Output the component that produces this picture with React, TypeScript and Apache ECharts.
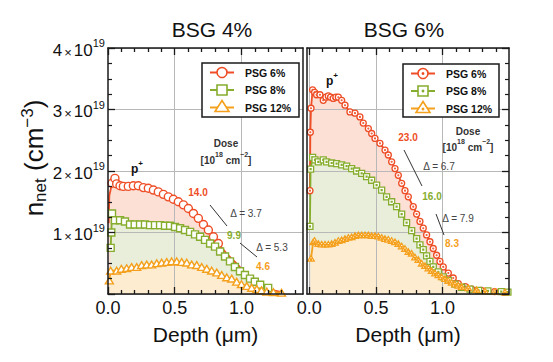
import React, { useEffect, useRef } from 'react';
import * as echarts from 'echarts';

const FONT = '"Liberation Sans", Arial, Helvetica, sans-serif';
const INK = '#1a1a1a';
const RED = '#ee4d26';
const GREEN = '#87ad2e';
const ORANGE = '#f5a01c';
const RED_FILL = '#fcdfd5';
const GREEN_FILL = '#e8eed9';
const ORANGE_FILL = '#fdecd0';
const GRID_LINE = '#b8b8b8';

// ---------- text ----------
const panelTitles = ['BSG 4%', 'BSG 6%'];
const legendNames = ['PSG 6%', 'PSG 8%', 'PSG 12%'];
const xTitle = 'Depth (μm)';
const doseLabel = 'Dose';
const leftDoses = ['14.0', '9.9', '4.6'];
const leftDeltas = ['Δ = 3.7', 'Δ = 5.3'];
const rightDoses = ['23.0', '16.0', '8.3'];
const rightDeltas = ['Δ = 6.7', 'Δ = 7.9'];

// ---------- axes ----------
const yTicks = [0, 1, 2, 3, 4]; // ×10^19 cm^-3
const leftXMajor = [0, 0.5, 1.0];
const leftXMinor = [0.1, 0.2, 0.3, 0.4, 0.6, 0.7, 0.8, 0.9, 1.1, 1.2, 1.3, 1.4];
const leftXGrid = [0.5, 1.0];
const rightXMajor = [0, 0.5, 1.0, 1.5];
const rightXMinor = [0.1, 0.2, 0.3, 0.4, 0.6, 0.7, 0.8, 0.9, 1.1, 1.2, 1.3, 1.4];
const rightXGrid = [0, 0.5, 1.0];
const leftXRange = [0, 1.461];
const rightXRange = [-0.017, 1.498];

// ---------- data (depth µm, n_net ×10^19 cm^-3) ----------
// BSG 4%
const l6x = [0.005, 0.01, 0.03, 0.052, 0.065, 0.09, 0.115, 0.152, 0.19, 0.227, 0.265, 0.302, 0.34, 0.377, 0.415, 0.452, 0.49, 0.527, 0.565, 0.602, 0.64, 0.677, 0.715, 0.752, 0.79, 0.827, 0.9, 0.976, 1.026, 1.1, 1.2, 1.3];
const l6y = [1.15, 1.6, 1.8, 1.88, 1.79, 1.76, 1.75, 1.75, 1.76, 1.76, 1.73, 1.72, 1.69, 1.66, 1.62, 1.58, 1.54, 1.5, 1.45, 1.39, 1.31, 1.23, 1.13, 1.04, 0.93, 0.82, 0.63, 0.47, 0.34, 0.2, 0.08, 0.03];
const l8x = [0.02, 0.025, 0.03, 0.052, 0.09, 0.127, 0.165, 0.2, 0.24, 0.277, 0.315, 0.352, 0.39, 0.427, 0.465, 0.502, 0.54, 0.577, 0.615, 0.652, 0.69, 0.727, 0.765, 0.802, 0.84, 0.877, 0.914, 0.951, 0.989, 1.026, 1.064, 1.1, 1.14, 1.2];
const l8y = [0.75, 1.0, 1.31, 1.2, 1.2, 1.18, 1.13, 1.13, 1.13, 1.13, 1.12, 1.12, 1.12, 1.11, 1.11, 1.09, 1.07, 1.04, 1.01, 0.97, 0.93, 0.88, 0.82, 0.77, 0.69, 0.61, 0.53, 0.44, 0.37, 0.31, 0.25, 0.2, 0.15, 0.1];
const l12x = [0.01, 0.02, 0.065, 0.1, 0.14, 0.177, 0.215, 0.252, 0.29, 0.327, 0.365, 0.402, 0.44, 0.477, 0.515, 0.552, 0.59, 0.627, 0.665, 0.702, 0.74, 0.777, 0.815, 0.852, 0.89, 0.927, 0.964, 1.0, 1.04, 1.077, 1.115, 1.15, 1.19, 1.24, 1.3];
const l12y = [0.22, 0.38, 0.38, 0.41, 0.42, 0.44, 0.44, 0.47, 0.48, 0.48, 0.5, 0.51, 0.52, 0.53, 0.53, 0.52, 0.51, 0.48, 0.47, 0.44, 0.41, 0.38, 0.35, 0.31, 0.27, 0.25, 0.2, 0.16, 0.13, 0.1, 0.08, 0.06, 0.04, 0.03, 0.02];
// BSG 6%
const r6x = [0.005, 0.008, 0.013, 0.025, 0.04, 0.055, 0.08, 0.105, 0.125, 0.143, 0.16, 0.18, 0.2, 0.218, 0.243, 0.268, 0.305, 0.343, 0.38, 0.405, 0.443, 0.468, 0.493, 0.53, 0.568, 0.593, 0.618, 0.643, 0.668, 0.693, 0.718, 0.743, 0.78, 0.805, 0.83, 0.855, 0.88, 0.905, 0.93, 0.955, 0.98, 1.005, 1.043, 1.08, 1.118, 1.17, 1.218, 1.29, 1.39, 1.46];
const r6y = [1.68, 2.63, 3.02, 3.32, 3.28, 3.24, 3.24, 3.15, 3.2, 3.22, 3.2, 3.18, 3.2, 3.2, 3.15, 3.07, 2.96, 2.94, 2.88, 2.78, 2.69, 2.61, 2.53, 2.45, 2.34, 2.26, 2.15, 2.04, 1.93, 1.8, 1.68, 1.58, 1.42, 1.3, 1.18, 1.07, 0.96, 0.85, 0.74, 0.63, 0.53, 0.44, 0.34, 0.26, 0.17, 0.12, 0.08, 0.06, 0.04, 0.03];
const r8x = [0.005, 0.01, 0.025, 0.043, 0.068, 0.105, 0.13, 0.168, 0.205, 0.243, 0.28, 0.318, 0.355, 0.393, 0.43, 0.468, 0.505, 0.543, 0.58, 0.618, 0.655, 0.693, 0.73, 0.768, 0.805, 0.83, 0.855, 0.88, 0.905, 0.93, 0.968, 1.005, 1.043, 1.093, 1.143, 1.205, 1.27, 1.34, 1.44, 1.49];
const r8y = [1.1, 2.03, 2.22, 2.18, 2.15, 2.18, 2.15, 2.13, 2.12, 2.1, 2.08, 2.04, 2.0, 1.96, 1.91, 1.85, 1.77, 1.69, 1.58, 1.5, 1.42, 1.3, 1.16, 1.03, 0.9, 0.8, 0.72, 0.62, 0.53, 0.44, 0.36, 0.28, 0.22, 0.16, 0.11, 0.08, 0.06, 0.05, 0.04, 0.03];
const r12x = [0.013, 0.03, 0.04, 0.068, 0.093, 0.118, 0.143, 0.168, 0.193, 0.218, 0.243, 0.268, 0.293, 0.318, 0.343, 0.368, 0.393, 0.418, 0.443, 0.468, 0.493, 0.518, 0.543, 0.568, 0.593, 0.618, 0.643, 0.668, 0.693, 0.718, 0.743, 0.768, 0.793, 0.818, 0.843, 0.868, 0.893, 0.918, 0.943, 0.968, 0.993, 1.018, 1.043, 1.068, 1.093, 1.118, 1.143, 1.193, 1.255, 1.318, 1.393, 1.468];
const r12y = [0.58, 0.85, 0.87, 0.82, 0.81, 0.81, 0.81, 0.82, 0.84, 0.87, 0.88, 0.9, 0.92, 0.93, 0.95, 0.96, 0.96, 0.96, 0.96, 0.95, 0.95, 0.94, 0.92, 0.9, 0.89, 0.87, 0.85, 0.82, 0.78, 0.74, 0.69, 0.66, 0.6, 0.56, 0.5, 0.46, 0.42, 0.38, 0.34, 0.31, 0.28, 0.25, 0.22, 0.19, 0.16, 0.14, 0.12, 0.1, 0.07, 0.05, 0.04, 0.03];

// marker range of the BSG 4% / PSG 6% curve (markers end, line continues)
const l6MarkerRange = [0.03, 0.83];

const SYM_CIRCLE = 'path://M0,10A10,10,0,1,1,20,10A10,10,0,1,1,0,10Z';
const SYM_RECT = 'path://M0,0H20V20H0Z';
const SYM_TRI = 'path://M10,0L20,17L0,17Z';
const SYM_CIRCLE_DOT = SYM_CIRCLE + 'M8.6,10A1.4,1.4,0,1,1,11.4,10A1.4,1.4,0,1,1,8.6,10Z';
const SYM_RECT_DOT = SYM_RECT + 'M8.5,8.5H11.5V11.5H8.5Z';
const SYM_TRI_DOT = SYM_TRI + 'M8.6,10.2H11.4V13H8.6Z';

const zip = (xs: number[], ys: number[]) => xs.map((x, i) => [x, ys[i]]);

function areaSeries(xi: number, yi: number, xs: number[], ys: number[], fill: string) {
  return {
    type: 'line', xAxisIndex: xi, yAxisIndex: yi, data: zip(xs, ys), symbol: 'none',
    lineStyle: { width: 0, opacity: 0 }, areaStyle: { color: fill, opacity: 1 }, z: 1, silent: true,
  };
}

function lineSeries(name: string, xi: number, yi: number, data: any[], color: string, symbol: string, size: number, bw: number) {
  return {
    type: 'line', name, xAxisIndex: xi, yAxisIndex: yi, data, symbol, symbolSize: size,
    symbolKeepAspect: true, showAllSymbol: true,
    lineStyle: { color, width: 1.8 },
    itemStyle: { color: '#fff', borderColor: color, borderWidth: bw },
    z: 3, silent: true,
  };
}

function xAxesFor(grid: number, range: number[], major: number[], minor: number[], gridVals: number[]) {
  const base = { type: 'value', gridIndex: grid, min: range[0], max: range[1], z: 4 };
  const line = { show: true, onZero: false, lineStyle: { color: INK, width: 1.5 } };
  const noLine = { show: false, onZero: false };
  const tickStyle = { color: INK, width: 1.3 };
  return [
    {
      ...base, position: 'bottom', axisLine: line,
      axisTick: { show: true, inside: true, length: 7, customValues: major, lineStyle: tickStyle },
      axisLabel: { show: true, customValues: major, formatter: (v: number) => v.toFixed(1), fontSize: 18, color: '#111', margin: 5, fontFamily: FONT },
      splitLine: { show: false },
      name: xTitle, nameLocation: 'middle', nameGap: 30,
      nameTextStyle: { fontSize: 21, color: '#111', fontFamily: FONT },
    },
    {
      ...base, position: 'bottom', axisLine: noLine,
      axisTick: { show: true, inside: true, length: 4, customValues: minor, lineStyle: tickStyle },
      axisLabel: { show: false }, splitLine: { show: false },
    },
    {
      ...base, position: 'top', axisLine: line,
      axisTick: { show: true, inside: true, length: 7, customValues: major, lineStyle: tickStyle },
      axisLabel: { show: false }, splitLine: { show: false },
    },
    {
      ...base, position: 'top', axisLine: noLine,
      axisTick: { show: true, inside: true, length: 4, customValues: minor, lineStyle: tickStyle },
      axisLabel: { show: false }, splitLine: { show: false },
    },
    {
      ...base, z: 2, position: 'bottom', axisLine: noLine,
      axisTick: { show: false, customValues: gridVals },
      axisLabel: { show: false },
      splitLine: { show: true, lineStyle: { color: GRID_LINE, width: 1 } },
    },
  ];
}

function yAxesFor(grid: number, labelled: boolean) {
  const base = { type: 'value', gridIndex: grid, min: yTicks[0], max: yTicks[yTicks.length - 1], interval: 1, z: 4 };
  const line = { show: true, onZero: false, lineStyle: { color: INK, width: 1.5 } };
  const ticked = {
    axisTick: { show: true, inside: true, length: 7, lineStyle: { color: INK, width: 1.3 } },
    minorTick: { show: true, splitNumber: 4, length: 4, lineStyle: { color: INK, width: 1.2 } },
  };
  const plain = { axisTick: { show: false }, minorTick: { show: false } };
  const label = labelled
    ? {
        show: true, margin: 3,
        formatter: (v: number) => (v === 0 ? '' : `{m|${v}}{x|×}{m|10}{s|19}`),
        rich: {
          m: { fontSize: 17, fontFamily: FONT, color: '#111', lineHeight: 21, verticalAlign: 'bottom' },
          x: { fontSize: 13, fontFamily: FONT, color: '#111', padding: [0, 2, 0, 2], lineHeight: 21, verticalAlign: 'bottom' },
          s: { fontSize: 11, fontFamily: FONT, color: '#111', verticalAlign: 'top' },
        },
      }
    : { show: false };
  return [
    { ...base, position: 'left', axisLine: line, ...(labelled ? ticked : plain), axisLabel: label, splitLine: { show: false } },
    { ...base, position: 'right', axisLine: line, ...(labelled ? plain : ticked), axisLabel: { show: false }, splitLine: { show: false } },
    { ...base, z: 2, position: 'left', axisLine: { show: false, onZero: false }, axisTick: { show: false }, axisLabel: { show: false }, splitLine: { show: true, lineStyle: { color: GRID_LINE, width: 1 } } },
  ];
}

function legend(x: number, y: number, w: number, h: number, dotted: boolean) {
  const els: any[] = [
    { type: 'rect', shape: { x, y, width: w, height: h }, style: { fill: '#fff', stroke: INK, lineWidth: 1.5 }, z: 20 },
  ];
  const colors = [RED, GREEN, ORANGE];
  const rowY = [y + 9.5, y + 27, y + 44.5];
  legendNames.forEach((name, i) => {
    const cy = rowY[i];
    const cx = x + 20;
    const c = colors[i];
    els.push({ type: 'line', shape: { x1: x + 8, y1: cy, x2: x + 32, y2: cy }, style: { stroke: c, lineWidth: 2 }, z: 21 });
    const mstyle = { fill: '#fff', stroke: c, lineWidth: 1.6 };
    if (i === 0) els.push({ type: 'circle', shape: { cx, cy, r: 5 }, style: mstyle, z: 22 });
    if (i === 1) els.push({ type: 'rect', shape: { x: cx - 5, y: cy - 5, width: 10, height: 10 }, style: mstyle, z: 22 });
    if (i === 2) els.push({ type: 'polygon', shape: { points: [[cx, cy - 7], [cx + 7, cy + 4], [cx - 7, cy + 4]] }, style: mstyle, z: 22 });
    if (dotted) els.push({ type: 'circle', shape: { cx, cy: i === 2 ? cy + 0.5 : cy, r: 1.4 }, style: { fill: c }, z: 23 });
    els.push({
      type: 'text', x: x + 43, y: cy, z: 22,
      style: { text: name, fill: '#111', font: `bold 10.5px ${FONT}`, align: 'left', verticalAlign: 'middle' },
    });
  });
  return els;
}

function txt(x: number, y: number, text: string, fill: string, size: number, bold: boolean) {
  return {
    type: 'text', x, y, z: 15,
    style: { text, fill, font: `${bold ? 'bold ' : ''}${size}px ${FONT}`, align: 'center', verticalAlign: 'middle' },
  };
}

function richTxt(x: number, y: number, text: string, rich: any) {
  return { type: 'text', x, y, z: 15, style: { text, rich, align: 'center', verticalAlign: 'middle' } };
}

const doseRich = {
  b: { fontSize: 10, fontWeight: 'bold', fontFamily: FONT, fill: '#333', lineHeight: 14, verticalAlign: 'bottom' },
  s: { fontSize: 7, fontWeight: 'bold', fontFamily: FONT, fill: '#333', verticalAlign: 'top' },
};
const doseUnit = '{b|[10}{s|18}{b| cm}{s|−2}{b|]}';
const pRich = {
  a: { fontSize: 12, fontWeight: 'bold', fontFamily: FONT, fill: '#111', lineHeight: 15, verticalAlign: 'bottom' },
  s: { fontSize: 8, fontWeight: 'bold', fontFamily: FONT, fill: '#111', verticalAlign: 'top' },
};
const yNameRich = {
  n: { fontSize: 26, fontFamily: FONT, fill: '#111', lineHeight: 30, verticalAlign: 'middle' },
  sub: { fontSize: 17, fontFamily: FONT, fill: '#111', verticalAlign: 'bottom' },
  sup: { fontSize: 17, fontFamily: FONT, fill: '#111', verticalAlign: 'top' },
};

function seg(x1: number, y1: number, x2: number, y2: number) {
  return { type: 'line', z: 15, shape: { x1, y1, x2, y2 }, style: { stroke: '#333', lineWidth: 1 } };
}

function buildOption() {
  const l6Data = zip(l6x, l6y).map((p) =>
    p[0] >= l6MarkerRange[0] && p[0] <= l6MarkerRange[1] ? p : { value: p, symbol: 'none' });

  const graphic: any[] = [
    txt(212, 29, panelTitles[0], '#111', 21, false),
    txt(404, 29, panelTitles[1], '#111', 21, false),
    {
      type: 'text', x: 34, y: 158, rotation: Math.PI / 2, z: 15,
      style: { text: '{n|n}{sub|net}{n| (cm}{sup|−3}{n|)}', rich: yNameRich, align: 'center', verticalAlign: 'middle' },
    },
    ...legend(202, 63, 97, 54, false),
    ...legend(403, 64, 96, 53, true),
    richTxt(137, 167, '{a|p}{s|+}', pRich),
    richTxt(332, 79, '{a|p}{s|+}', pRich),
    txt(226, 143, doseLabel, '#333', 10, true),
    richTxt(226, 158, doseUnit, doseRich),
    txt(468, 131, doseLabel, '#333', 10, true),
    richTxt(468, 145, doseUnit, doseRich),
    txt(198, 192, leftDoses[0], RED, 10, true),
    txt(234, 235, leftDoses[1], GREEN, 10, true),
    txt(263, 266, leftDoses[2], ORANGE, 10, true),
    txt(246, 213, leftDeltas[0], '#444', 10, false),
    txt(272, 247, leftDeltas[1], '#444', 10, false),
    seg(210, 205, 227, 226),
    seg(240, 243, 257, 257),
    txt(408, 137, rightDoses[0], RED, 10, true),
    txt(432, 196, rightDoses[1], GREEN, 10, true),
    txt(452, 243, rightDoses[2], ORANGE, 10, true),
    txt(439, 166, rightDeltas[0], '#444', 10, false),
    txt(458, 218, rightDeltas[1], '#444', 10, false),
    seg(404, 150, 422, 186),
    seg(436, 214, 444, 235),
  ];

  return {
    animation: false,
    backgroundColor: '#fff',
    textStyle: { fontFamily: FONT },
    grid: [
      { left: 108, top: 48, width: 195, height: 246, containLabel: false },
      { left: 307, top: 48, width: 202, height: 246, containLabel: false },
    ],
    xAxis: [
      ...xAxesFor(0, leftXRange, leftXMajor, leftXMinor, leftXGrid),
      ...xAxesFor(1, rightXRange, rightXMajor, rightXMinor, rightXGrid),
    ],
    yAxis: [...yAxesFor(0, true), ...yAxesFor(1, false)],
    series: [
      areaSeries(0, 0, l6x, l6y, RED_FILL),
      areaSeries(0, 0, l8x, l8y, GREEN_FILL),
      areaSeries(0, 0, l12x, l12y, ORANGE_FILL),
      lineSeries(legendNames[0], 0, 0, l6Data, RED, SYM_CIRCLE, 8, 1.4),
      lineSeries(legendNames[1], 0, 0, zip(l8x, l8y), GREEN, SYM_RECT, 7, 1.4),
      lineSeries(legendNames[2], 0, 0, zip(l12x, l12y), ORANGE, SYM_TRI, 8, 1.4),
      areaSeries(5, 3, r6x, r6y, RED_FILL),
      areaSeries(5, 3, r8x, r8y, GREEN_FILL),
      areaSeries(5, 3, r12x, r12y, ORANGE_FILL),
      lineSeries(legendNames[0], 5, 3, zip(r6x, r6y), RED, SYM_CIRCLE_DOT, 6, 1.3),
      lineSeries(legendNames[1], 5, 3, zip(r8x, r8y), GREEN, SYM_RECT_DOT, 6, 1.3),
      lineSeries(legendNames[2], 5, 3, zip(r12x, r12y), ORANGE, SYM_TRI_DOT, 6.5, 1.3),
    ],
    graphic,
  };
}

export default function App() {
  const ref = useRef<HTMLDivElement>(null);
  useEffect(() => {
    document.body.style.margin = '0';
    const chart = echarts.init(ref.current as HTMLDivElement, null, { renderer: 'svg' });
    chart.setOption(buildOption() as any);
    return () => chart.dispose();
  }, []);
  return <div ref={ref} style={{ width: 553, height: 362 }} />;
}
